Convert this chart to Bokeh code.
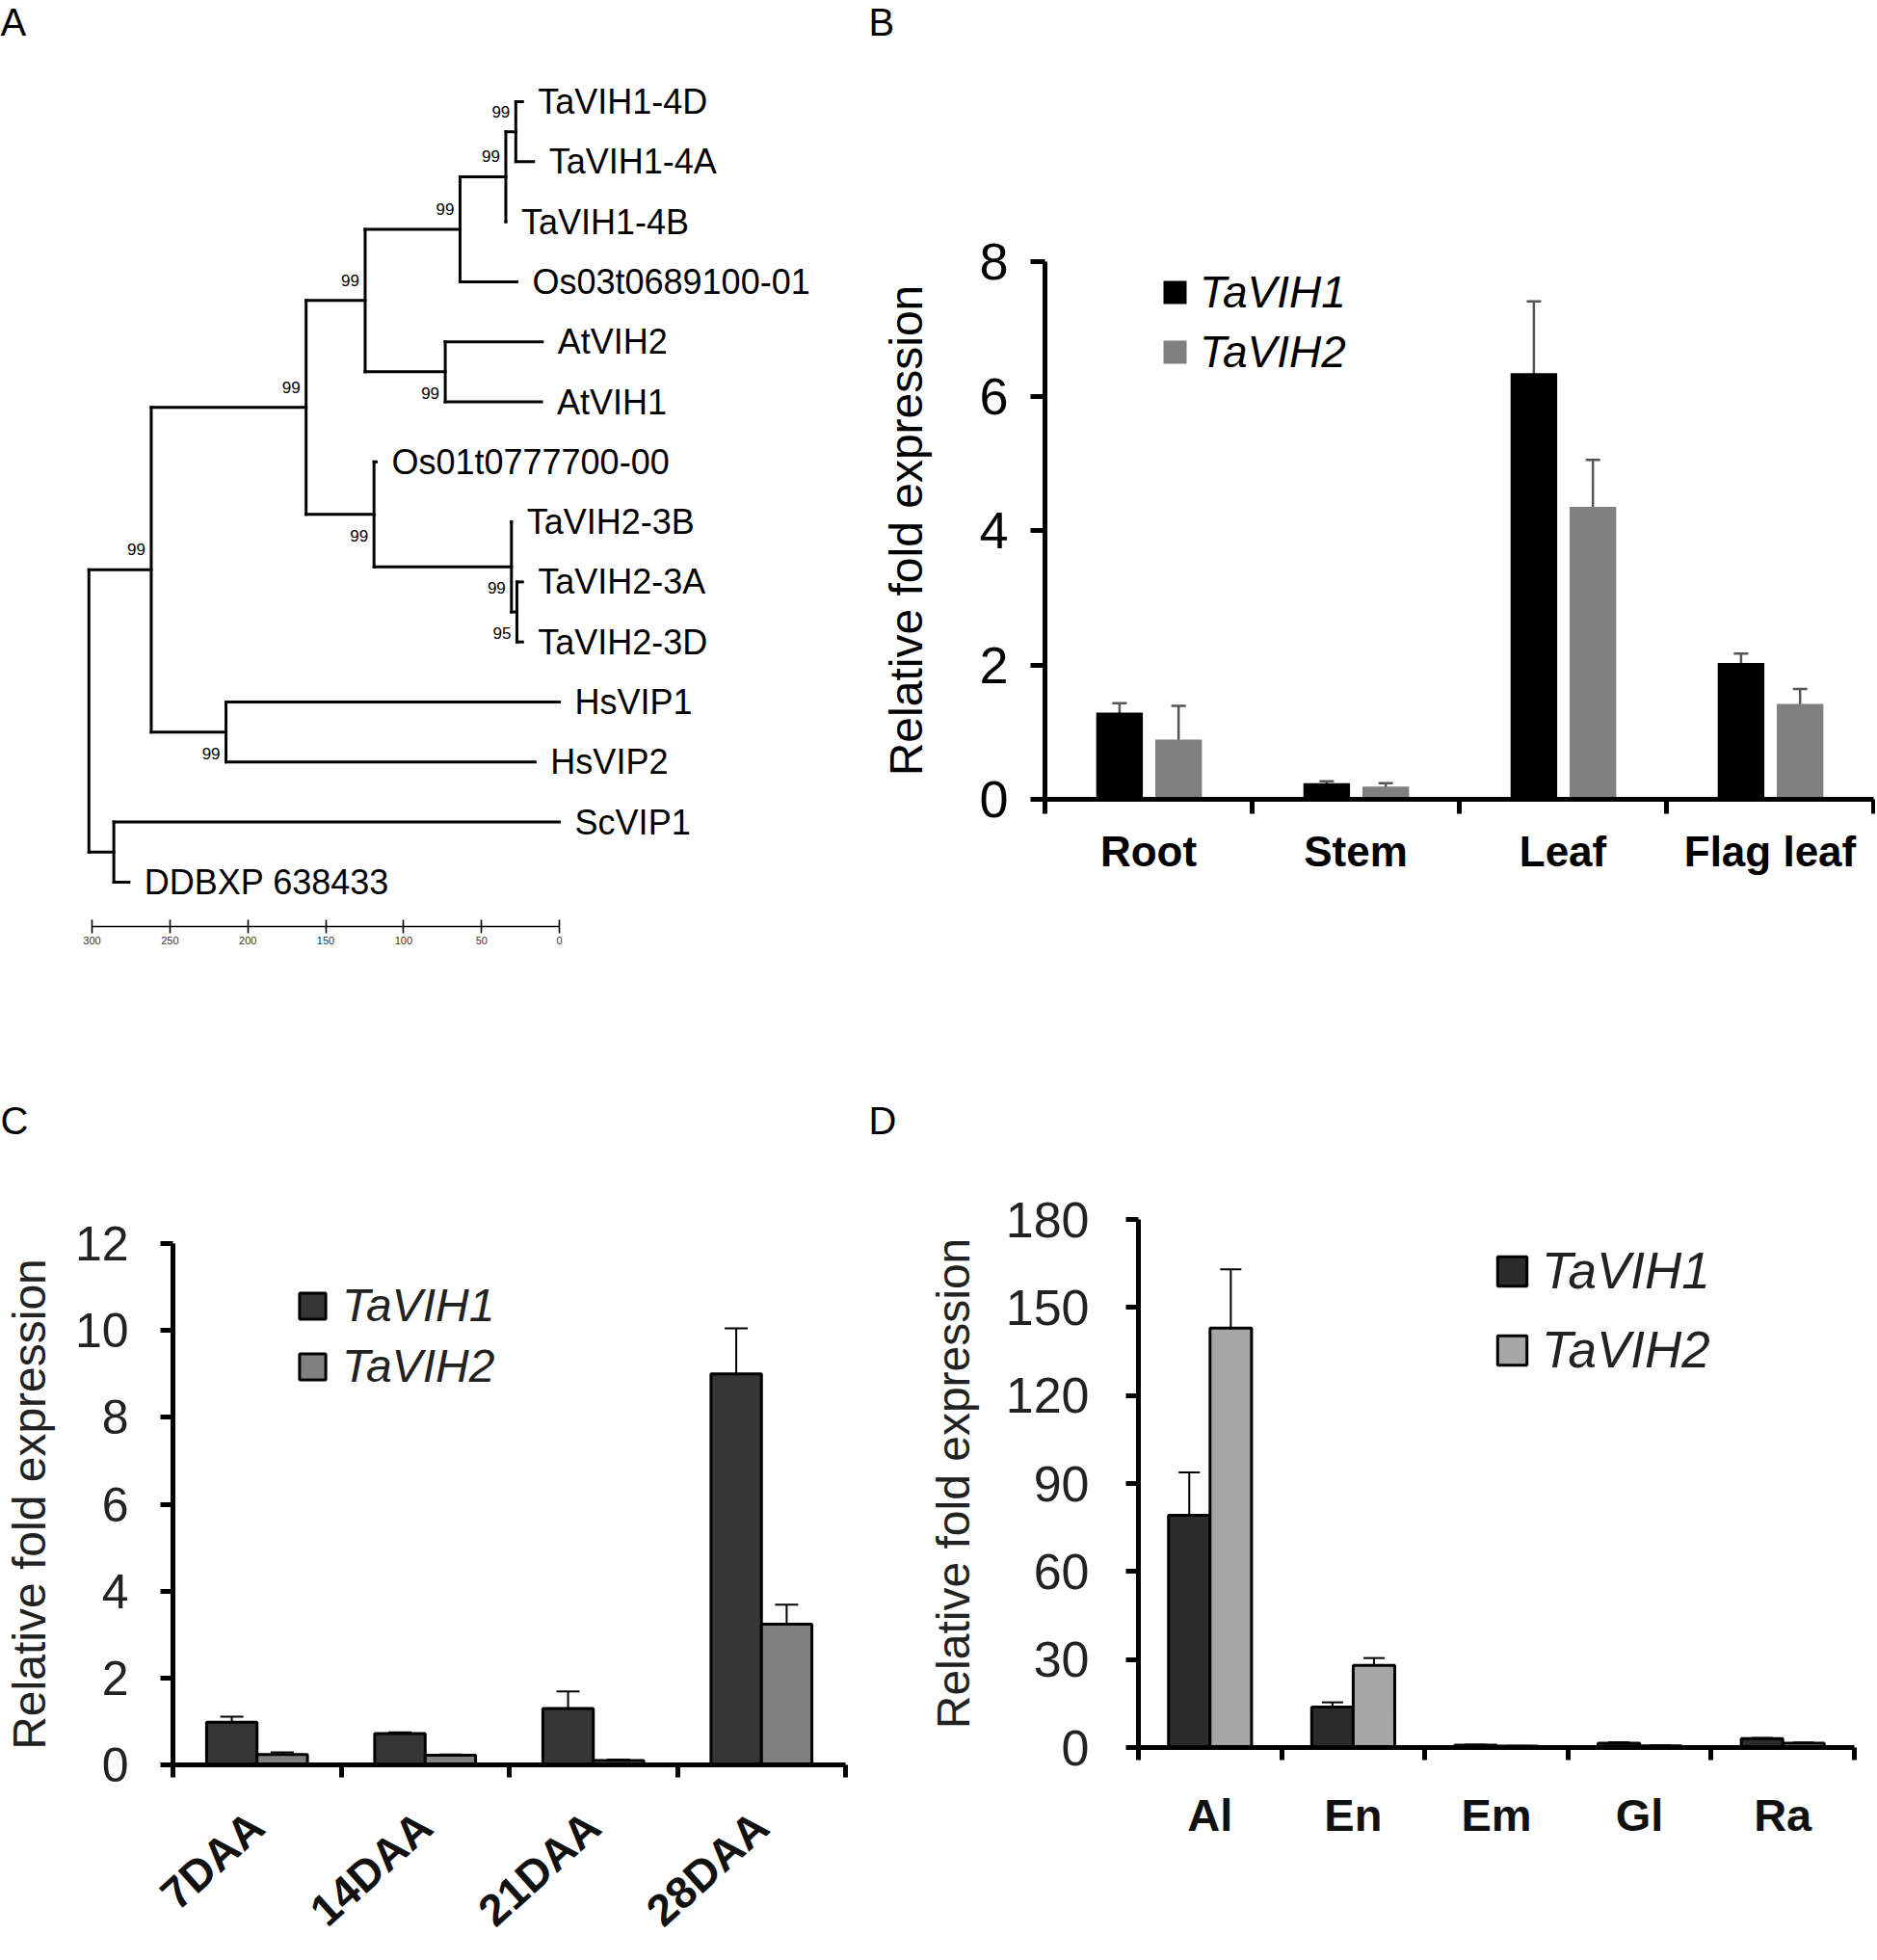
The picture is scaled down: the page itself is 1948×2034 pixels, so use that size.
import numpy as np
from bokeh.plotting import figure
from bokeh.models import (Range1d, LinearAxis, FixedTicker, ColumnDataSource,
                          Whisker, TeeHead, Legend, LegendItem)
from bokeh.layouts import row, column
from bokeh.embed import file_html
from bokeh.resources import INLINE
from bokeh.core.properties import value

FONT = "Liberation Sans"

# ---------------- Panel A : phylogenetic tree ----------------
leaf_names = ["TaVIH1-4D", "TaVIH1-4A", "TaVIH1-4B", "Os03t0689100-01", "AtVIH2", "AtVIH1",
              "Os01t0777700-00", "TaVIH2-3B", "TaVIH2-3A", "TaVIH2-3D", "HsVIP1", "HsVIP2",
              "ScVIP1", "DDBXP 638433"]
leaf_dist = [23.7, 16.6, 34.4, 27.3, 11.0, 11.5, 117.6, 30.8, 23.7, 23.7, 0.0, 15.6, 0.0, 276.3]
node_names = ["n1", "n2", "n3", "n5", "n4", "n9", "n8", "n7", "n6", "n11", "n10", "n12", "root"]
node_dist = [28.0, 34.4, 63.8, 73.3, 124.7, 27.3, 30.8, 119.0, 162.6, 214.0, 262.0, 286.0, 302.0]
node_children = [["TaVIH1-4D", "TaVIH1-4A"], ["n1", "TaVIH1-4B"], ["n2", "Os03t0689100-01"],
                 ["AtVIH2", "AtVIH1"], ["n3", "n5"], ["TaVIH2-3A", "TaVIH2-3D"],
                 ["TaVIH2-3B", "n9"], ["Os01t0777700-00", "n8"], ["n4", "n7"],
                 ["HsVIP1", "HsVIP2"], ["n6", "n11"], ["ScVIP1", "DDBXP 638433"], ["n10", "n12"]]
node_support = ["99", "99", "99", "99", "99", "95", "99", "99", "99", "99", "99", "", ""]
support_side = ["above", "above", "above", "below", "above", "below", "below", "below",
                "above", "below", "above", "above", "above"]
scale_ticks = [0, 50, 100, 150, 200, 250, 300]

# ---------------- Panel B ----------------
B_cats = ["Root", "Stem", "Leaf", "Flag leaf"]
B_vih1 = [1.29, 0.24, 6.34, 2.03]
B_vih1_err = [0.14, 0.03, 1.07, 0.14]
B_vih2 = [0.89, 0.19, 4.35, 1.42]
B_vih2_err = [0.50, 0.05, 0.70, 0.22]
B_yticks = [0, 2, 4, 6, 8]

# ---------------- Panel C ----------------
C_cats = ["7DAA", "14DAA", "21DAA", "28DAA"]
C_vih1 = [0.98, 0.72, 1.30, 9.00]
C_vih1_err = [0.13, 0.03, 0.39, 1.05]
C_vih2 = [0.24, 0.22, 0.10, 3.24]
C_vih2_err = [0.05, 0.02, 0.02, 0.45]
C_yticks = [0, 2, 4, 6, 8, 10, 12]

# ---------------- Panel D ----------------
D_cats = ["Al", "En", "Em", "Gl", "Ra"]
D_vih1 = [79.2, 13.8, 0.8, 1.5, 3.0]
D_vih1_err = [14.6, 1.6, 0.2, 0.3, 0.3]
D_vih2 = [143.0, 28.0, 0.5, 0.6, 1.5]
D_vih2_err = [20.0, 2.5, 0.1, 0.1, 0.2]
D_yticks = [0, 30, 60, 90, 120, 150, 180]

series_names = ["TaVIH1", "TaVIH2"]
panel_letters = ["A", "B", "C", "D"]
y_title = "Relative fold expression"

# ---------------- layout geometry (page pixels, layout starts at 0,0) ----------------
LW, RW = 901, 1045          # column widths
LH_T, LH_B = 50, 52         # letter strip heights
TH, BH = 1090, 840          # chart row heights
OX_L, OX_R = 0, LW
OY_T = LH_T
OY_B = LH_T + TH + LH_B


def letter_strip(w, h, letter):
    p = figure(width=w, height=h, x_range=Range1d(0, w), y_range=Range1d(0, h),
               x_axis_type=None, y_axis_type=None, toolbar_location=None,
               output_backend="svg", min_border=0, frame_align=False)
    p.outline_line_color = None
    p.text(x=[0], y=[h], text=[letter], text_baseline="top",
           text_align="left", text_font=value(FONT), text_font_size="40px",
           text_color="#000000")
    return p


# ======================= Panel A =======================
px_per_unit = 1.617
pitch = 62.3
A_x0 = 300 + (95 - OX_L) / px_per_unit
A_xr = (A_x0, A_x0 - LW / px_per_unit)
A_yr = ((961 - 105) / pitch, (OY_T - 105) / pitch)

pA = figure(width=LW, height=TH, x_range=Range1d(*A_xr), y_range=Range1d(*A_yr),
            x_axis_type=None, y_axis_type=None, toolbar_location=None, output_backend="svg",
            min_border_left=0, min_border_right=0, min_border_top=0,
            min_border_bottom=OY_T + TH - 961, frame_align=False)
pA.outline_line_color = None

ypos = {n: float(i) for i, n in enumerate(leaf_names)}
xpos = dict(zip(leaf_names, leaf_dist))
x0s, y0s, x1s, y1s = [], [], [], []
for n, d, ch in zip(node_names, node_dist, node_children):
    xpos[n] = d
    ypos[n] = (ypos[ch[0]] + ypos[ch[-1]]) / 2.0
    x0s.append(d); y0s.append(ypos[ch[0]]); x1s.append(d); y1s.append(ypos[ch[-1]])
    for c in ch:
        x0s.append(d); y0s.append(ypos[c]); x1s.append(xpos[c]); y1s.append(ypos[c])
pA.segment(x0=x0s, y0=y0s, x1=x1s, y1=y1s, line_color="#000000", line_width=3,
           line_cap="square")

pA.text(x=leaf_dist, y=list(range(len(leaf_names))), text=leaf_names, x_offset=16,
        text_baseline="middle", text_align="left", text_font=value(FONT),
        text_font_size="36px", text_color="#000000")

sup_src = ColumnDataSource(dict(
    x=[xpos[n] for n in node_names], y=[ypos[n] for n in node_names], t=node_support,
    yo=[-21 if s == "above" else 22 for s in support_side]))
pA.text(x="x", y="y", text="t", y_offset="yo", x_offset=-6, source=sup_src,
        text_align="right", text_baseline="middle", text_font=value(FONT),
        text_font_size="17px", text_color="#000000")

sax = LinearAxis(ticker=FixedTicker(ticks=scale_ticks), bounds=(0, 300))
sax.axis_line_width = 1.6
sax.major_tick_in = 7
sax.major_tick_out = 7
sax.major_tick_line_width = 1.6
sax.minor_tick_in = 0
sax.minor_tick_out = 0
sax.major_label_text_font = FONT
sax.major_label_text_font_size = "11px"
sax.major_label_text_color = "#333333"
sax.major_label_standoff = 3
pA.add_layout(sax, "below")


# ======================= bar panels =======================
def bar_panel(fig_w, fig_h, origin, frame, cats, v1, e1, v2, e2, yticks, st):
    ox, oy = origin
    L, R, T, B = frame
    n = len(cats)
    p = figure(width=fig_w, height=fig_h, x_range=Range1d(0, n), y_range=Range1d(0, yticks[-1]),
               x_axis_type=None, y_axis_type=None, toolbar_location=None,
               output_backend="svg", frame_align=False,
               min_border_left=L - ox, min_border_right=ox + fig_w - R,
               min_border_top=T - oy, min_border_bottom=oy + fig_h - B)
    p.outline_line_color = None

    centers = np.arange(n) + 0.5
    x1 = centers + st["off1"]
    x2 = centers + st["off2"]
    r1 = p.vbar(x=x1, top=v1, width=st["bw"], bottom=0, fill_color=st["c1"],
                line_color=st["outline"], line_width=st["olw"])
    r2 = p.vbar(x=x2, top=v2, width=st["bw"], bottom=0, fill_color=st["c2"],
                line_color=st["outline"], line_width=st["olw"])
    for xs, v, e in ((x1, v1, e1), (x2, v2, e2)):
        v = np.array(v); e = np.array(e)
        src = ColumnDataSource(dict(base=xs, upper=v + e, lower=v - e))
        w = Whisker(base="base", upper="upper", lower="lower", source=src,
                    line_color=st["ecol"], line_width=st["elw"],
                    upper_head=TeeHead(size=st["cap"], line_color=st["ecol"], line_width=st["elw"]),
                    lower_head=TeeHead(size=st["cap"], line_color=st["ecol"], line_width=st["elw"]))
        p.add_layout(w)

    ya = LinearAxis(ticker=FixedTicker(ticks=yticks, minor_ticks=[]))
    ya.axis_line_width = st["axlw"]
    ya.axis_line_color = "#000000"
    ya.major_tick_line_width = st["axlw"]
    ya.major_tick_in = 0
    ya.major_tick_out = st["tick"]
    ya.minor_tick_in = 0
    ya.minor_tick_out = 0
    ya.major_label_text_font = FONT
    ya.major_label_text_font_size = st["ytfs"]
    ya.major_label_text_color = st["tcol"]
    ya.major_label_standoff = st["ystand"]
    ya.axis_label = y_title
    ya.axis_label_text_font = FONT
    ya.axis_label_text_font_style = "normal"
    ya.axis_label_text_font_size = "48px"
    ya.axis_label_text_color = st["tcol"]
    ya.axis_label_standoff = st["ylstand"]
    p.add_layout(ya, "left")

    xa = LinearAxis(ticker=FixedTicker(ticks=list(centers), minor_ticks=list(range(n + 1))))
    xa.axis_line_width = st["axlw"]
    xa.axis_line_color = "#000000"
    xa.major_tick_in = 0
    xa.major_tick_out = 0
    xa.major_tick_line_color = None
    xa.minor_tick_in = 0
    xa.minor_tick_out = st["tick"]
    xa.minor_tick_line_width = st["axlw"]
    xa.minor_tick_line_color = "#000000"
    xa.major_label_overrides = {float(c): lab for c, lab in zip(centers, cats)}
    xa.major_label_text_font = FONT
    xa.major_label_text_font_style = "bold"
    xa.major_label_text_font_size = st["xtfs"]
    xa.major_label_text_color = st["xcol"]
    xa.major_label_standoff = st["xstand"]
    if st.get("xrot"):
        xa.major_label_orientation = st["xrot"]
    p.add_layout(xa, "below")

    leg = Legend(items=[LegendItem(label=series_names[0], renderers=[r1]),
                        LegendItem(label=series_names[1], renderers=[r2])],
                 location=st["legloc"], orientation="vertical",
                 padding=0, margin=0, spacing=st["legsp"],
                 glyph_width=st["glyph"], glyph_height=st["glyph"],
                 label_standoff=st["legstand"],
                 label_text_font=FONT, label_text_font_style="italic",
                 label_text_font_size=st["legfs"], label_text_color=st["tcol"],
                 border_line_color=None, background_fill_alpha=0)
    p.add_layout(leg)
    return p


pB = bar_panel(
    RW, TH, (OX_R, OY_T), (1084, 1944, 271, 829), B_cats, B_vih1, B_vih1_err,
    B_vih2, B_vih2_err, B_yticks,
    dict(off1=-0.14, off2=0.145, bw=0.225, c1="#000000", c2="#808080", outline=None, olw=0,
         ecol="#555555", elw=2.5, cap=15, axlw=5, tick=15, ytfs="54px", tcol="#000000",
         ystand=23, ylstand=46, xtfs="44px", xcol="#000000", xstand=14,
         legloc=(120, 437), legsp=8, glyph=30, legstand=11, legfs="46px"))

pC = bar_panel(
    LW, BH, (OX_L, OY_B), (179, 877, 1290, 1831), C_cats, C_vih1, C_vih1_err,
    C_vih2, C_vih2_err, C_yticks,
    dict(off1=-0.15, off2=0.15, bw=0.30, c1="#363636", c2="#808080", outline="#000000", olw=3,
         ecol="#000000", elw=2, cap=24, axlw=5, tick=13, ytfs="50px", tcol="#222222",
         ystand=33, ylstand=18, xtfs="46px", xcol="#111111", xstand=44,
         xrot=np.deg2rad(42),
         legloc=(128, 386), legsp=8, glyph=34, legstand=14, legfs="48px"))

pD = bar_panel(
    RW, BH, (OX_R, OY_B), (1181, 1924, 1265, 1813), D_cats, D_vih1, D_vih1_err,
    D_vih2, D_vih2_err, D_yticks,
    dict(off1=-0.145, off2=0.145, bw=0.29, c1="#2b2b2b", c2="#a6a6a6", outline="#000000", olw=3,
         ecol="#000000", elw=2, cap=22, axlw=5, tick=13, ytfs="52px", tcol="#222222",
         ystand=38, ylstand=25, xtfs="47px", xcol="#111111", xstand=30,
         legloc=(369, 382), legsp=21, glyph=38, legstand=12, legfs="53px"))

layout = column(
    row(letter_strip(LW, LH_T, panel_letters[0]), letter_strip(RW, LH_T, panel_letters[1])),
    row(pA, pB),
    row(letter_strip(LW, LH_B, panel_letters[2]), letter_strip(RW, LH_B, panel_letters[3])),
    row(pC, pD))
open("out.html", "w").write(file_html(layout, INLINE))
